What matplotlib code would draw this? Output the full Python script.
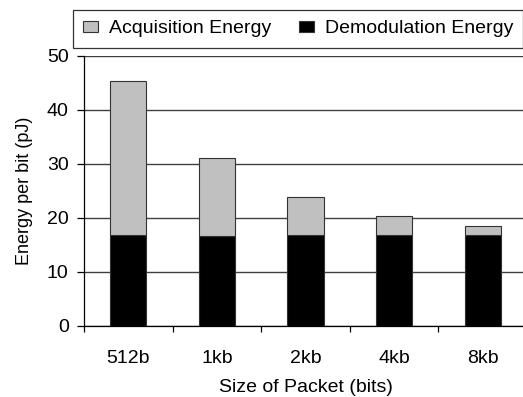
import numpy as np
import matplotlib.pyplot as plt
from matplotlib.patches import Rectangle
from matplotlib.legend_handler import HandlerPatch

plt.rcParams['font.family'] = ['Liberation Sans', 'DejaVu Sans']

sizes = ['512b', '1kb', '2kb', '4kb', '8kb']
demod = [16.8, 16.7, 16.8, 16.8, 16.8]
acq = [28.5, 14.4, 7.1, 3.6, 1.7]

fig = plt.figure(figsize=(5.23, 3.97), dpi=100)
ax = fig.add_axes([84/523, 71/397, 443/523, 270/397])

x = np.arange(len(sizes))
ax.bar(x, demod, width=0.41, color='black', edgecolor='#333333', linewidth=0.8,
       label='Demodulation Energy', zorder=3)
ax.bar(x, acq, width=0.41, bottom=demod, color='#c0c0c0', edgecolor='#333333',
       linewidth=0.8, label='Acquisition Energy', zorder=3)

ax.set_xlim(-0.5, 4.5)
ax.set_ylim(0, 50)
ax.set_yticks(range(0, 51, 10))
ax.yaxis.grid(True, color='#404040', linewidth=1.0)
ax.set_axisbelow(True)
for s in ['top', 'right']:
    ax.spines[s].set_visible(False)
ax.spines['left'].set_linewidth(0.9)
ax.spines['bottom'].set_linewidth(0.9)

ax.set_xticks(x)
ax.set_xticklabels(sizes)
ax.set_xticks(np.arange(-0.5, 5, 1), minor=True)
ax.tick_params(axis='x', which='major', length=0, pad=17, labelsize=14)
ax.tick_params(axis='x', which='minor', length=4.5, width=0.9)
ax.tick_params(axis='y', length=5, width=0.9, pad=6, labelsize=14)

ax.set_xlabel('Size of Packet (bits)', fontsize=14, labelpad=9)
ax.set_ylabel('Energy per bit (pJ)', fontsize=13, labelpad=10)


# small square swatch at the right end of the handle box
def square(legend, orig_handle, xdescent, ydescent, width, height, fontsize):
    s = 10
    return Rectangle((-xdescent + width - s, -ydescent + (height - s) / 2), s, s)


h, l = ax.get_legend_handles_labels()
leg = fig.legend(h[::-1], l[::-1], ncol=2, loc='upper left',
                 bbox_to_anchor=(73/523, 1 - 10/397), fontsize=14,
                 frameon=True, fancybox=False, edgecolor='black',
                 handler_map={Rectangle: HandlerPatch(patch_func=square)},
                 handlelength=0.76, handleheight=0.55, handletextpad=0.55,
                 columnspacing=1.45, borderpad=0.53, borderaxespad=0)
leg.get_frame().set_linewidth(0.9)

fig.savefig('out.png', dpi=100)
